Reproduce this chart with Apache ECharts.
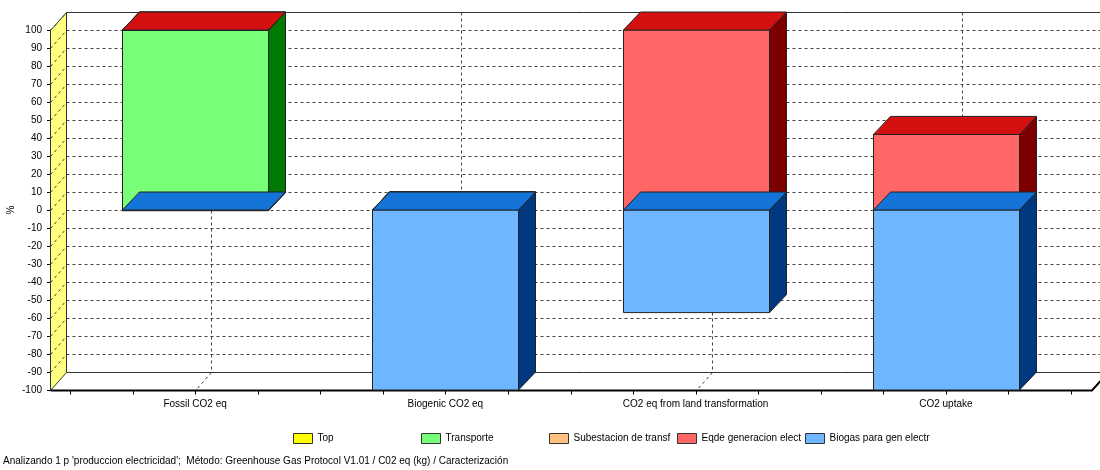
<!DOCTYPE html>
<html>
<head>
<meta charset="utf-8">
<script src="https://cdn.jsdelivr.net/npm/echarts@6/dist/echarts.min.js"></script>
<style>
  html, body { margin: 0; padding: 0; background: #ffffff; }
  #chart { width: 1100px; height: 470px; }
</style>
</head>
<body>
<div id="chart"></div>
<script>
// categories and stacked contributions (%)
const categories = ['Fossil CO2 eq', 'Biogenic CO2 eq', 'CO2 eq from land transformation', 'CO2 uptake'];
const topPart = [0, 0, 0, 0];
const transporte = [100, 0, 0, 0];
const subestacion = [0, 0, 0, 0];
const eqdeGeneracion = [0, 0, 100, 42];
const biogas = [-0.4, -100, -57, -100];
const seriesNames = ['Top', 'Transporte', 'Subestacion de transf', 'Eqde generacion elect', 'Biogas para gen electr'];
const yMin = -100, yMax = 100, yStep = 10;

const stackData = [topPart, transporte, subestacion, eqdeGeneracion, biogas];

// face colours per series: front, top, side
const frontColors = ['#ffff00', '#78ff78', '#ffc080', '#ff6666', '#6eb6ff'];
const topColors = ['#d4d400', '#18b018', '#e08020', '#d51010', '#1474d8'];
const sideColors = ['#808000', '#007a00', '#804000', '#7d0000', '#003980'];

const BAR_RATIO = 0.583;   // bar width / band width
const DX = 17, DY = 18;    // 3d depth of the bars
const WDX = 16, WDY = 18;  // 3d depth of the walls
const AXIS_OFFSET = 20;
const LEGEND_LEFT = 293, LEGEND_STEP = 128;

const chart = echarts.init(document.getElementById('chart'), null, { renderer: 'canvas' });

function makeBar(s) {
  return function (params, api) {
    const i = params.dataIndex;
    const v = api.value(1);
    let base = 0;
    for (let j = 0; j < s; j++) {
      const w = stackData[j][i];
      if (v < 0 ? w < 0 : w >= 0) base += w;
    }
    const hi = Math.max(base, base + v), lo = Math.min(base, base + v);
    const pHi = api.coord([i, hi]), pLo = api.coord([i, lo]);
    const half = api.size([1, 0])[0] * BAR_RATIO / 2;
    const x0 = Math.round(pHi[0] - half) + 0.5, x1 = Math.round(pHi[0] + half) + 0.5;
    const yT = pHi[1], yB = pLo[1];
    const edge = { stroke: '#222', lineWidth: 1 };
    return {
      type: 'group',
      children: [
        { type: 'polygon', shape: { points: [[x0, yT], [x1, yT], [x1, yB], [x0, yB]] },
          style: Object.assign({ fill: frontColors[s] }, edge) },
        { type: 'polygon', shape: { points: [[x1, yT], [x1 + DX, yT - DY], [x1 + DX, yB - DY], [x1, yB]] },
          style: Object.assign({ fill: sideColors[s] }, edge) },
        { type: 'polygon', shape: { points: [[x0, yT], [x1, yT], [x1 + DX, yT - DY], [x0 + DX, yT - DY]] },
          style: Object.assign({ fill: topColors[s] }, edge) }
      ]
    };
  };
}

// walls, floor and grid of the 3d box
function renderFrame(params, api) {
  const cs = params.coordSys;
  const axisX = cs.x - AXIS_OFFSET + 0.5;
  const wallX = axisX + WDX;
  const right = api.getWidth();
  const yAt = v => Math.round(api.coord([0, v])[1]) + 0.5;
  const yTop = yAt(yMax), yBot = yAt(yMin);
  const dash = { stroke: '#444', lineWidth: 1, lineDash: [3, 3] };
  const solid = { stroke: '#333', lineWidth: 1 };
  const kids = [];
  kids.push({ type: 'polygon', shape: { points: [[axisX, yTop], [wallX, yTop - WDY], [wallX, yBot - WDY], [axisX, yBot]] },
    style: { fill: '#ffff80', stroke: '#333', lineWidth: 1 } });
  for (let v = yMin + yStep; v <= yMax; v += yStep) {
    const y = yAt(v);
    kids.push({ type: 'line', shape: { x1: axisX, y1: y, x2: wallX, y2: y - WDY }, style: dash });
    if (v > yMin + yStep) {
      kids.push({ type: 'line', shape: { x1: wallX, y1: y, x2: right, y2: y }, style: dash });
    }
  }
  categories.forEach((c, i) => {
    const x = Math.round(api.coord([i, 0])[0]) + WDX + 0.5;
    kids.push({ type: 'line', shape: { x1: x, y1: yTop - WDY, x2: x, y2: yBot - WDY }, style: dash });
    kids.push({ type: 'line', shape: { x1: x, y1: yBot - WDY, x2: x - WDX, y2: yBot }, style: dash });
  });
  kids.push({ type: 'line', shape: { x1: wallX, y1: yTop - WDY, x2: right, y2: yTop - WDY }, style: solid });
  kids.push({ type: 'line', shape: { x1: wallX, y1: yBot - WDY, x2: right, y2: yBot - WDY }, style: solid });
  const xEnd = cs.x + cs.width + 21;
  kids.push({ type: 'polyline', shape: { points: [[axisX, yBot], [xEnd, yBot], [xEnd + WDX, yBot - WDY]] },
    style: { stroke: '#000', lineWidth: 2, fill: null } });
  for (let k = 0; k <= categories.length * 4; k++) {
    const x = Math.round(cs.x + k * cs.width / (categories.length * 4)) + 0.5;
    kids.push({ type: 'line', shape: { x1: x, y1: yBot, x2: x, y2: yBot + 4 }, style: { stroke: '#000', lineWidth: 1 } });
  }
  return { type: 'group', children: kids };
}

const series = [{
  type: 'custom',
  name: 'frame',
  silent: true,
  z: 1,
  data: [[0, 0]],
  renderItem: renderFrame
}];
stackData.forEach((arr, s) => {
  series.push({
    type: 'custom',
    name: seriesNames[s],
    z: 2,
    itemStyle: { color: frontColors[s] },
    encode: { x: 0, y: 1 },
    data: arr.map((v, i) => [i, v]),
    renderItem: makeBar(s)
  });
});

// one legend per item so the entries sit on a fixed pitch
const legends = seriesNames.map((n, k) => ({
  left: LEGEND_LEFT + k * LEGEND_STEP,
  top: 433,
  padding: 0,
  itemWidth: 19,
  itemHeight: 10,
  icon: 'rect',
  selectedMode: false,
  textStyle: { fontSize: 10, color: '#000' },
  data: [{ name: n, itemStyle: { color: frontColors[k], borderColor: '#333', borderWidth: 1 } }]
}));

chart.setOption({
  animation: false,
  textStyle: { fontFamily: 'Liberation Sans, Arial, sans-serif' },
  title: {
    text: "Analizando 1 p 'produccion electricidad';  Método: Greenhouse Gas Protocol V1.01 / C02 eq (kg) / Caracterización",
    left: 3,
    top: 456,
    padding: 0,
    textStyle: { fontSize: 10, fontWeight: 'normal', color: '#000' }
  },
  legend: legends,
  grid: { left: 70, top: 30, width: 1001, height: 360, containLabel: false, outerBoundsMode: 'none' },
  xAxis: {
    type: 'category',
    data: categories,
    axisLine: { show: false },
    axisTick: { show: false },
    splitLine: { show: false },
    axisLabel: { margin: 9, fontSize: 10, color: '#000', interval: 0 }
  },
  yAxis: {
    type: 'value',
    min: yMin,
    max: yMax,
    interval: yStep,
    offset: AXIS_OFFSET,
    name: '%',
    nameLocation: 'middle',
    nameGap: 34,
    nameMoveOverlap: false,
    nameRotate: 90,
    nameTextStyle: { fontSize: 10, color: '#000' },
    axisLine: { show: true, lineStyle: { color: '#000', width: 1 } },
    axisTick: { show: true, length: 3, lineStyle: { color: '#000' } },
    axisLabel: { margin: 8, fontSize: 10, color: '#000' },
    splitLine: { show: false }
  },
  series: series
});
</script>
</body>
</html>
